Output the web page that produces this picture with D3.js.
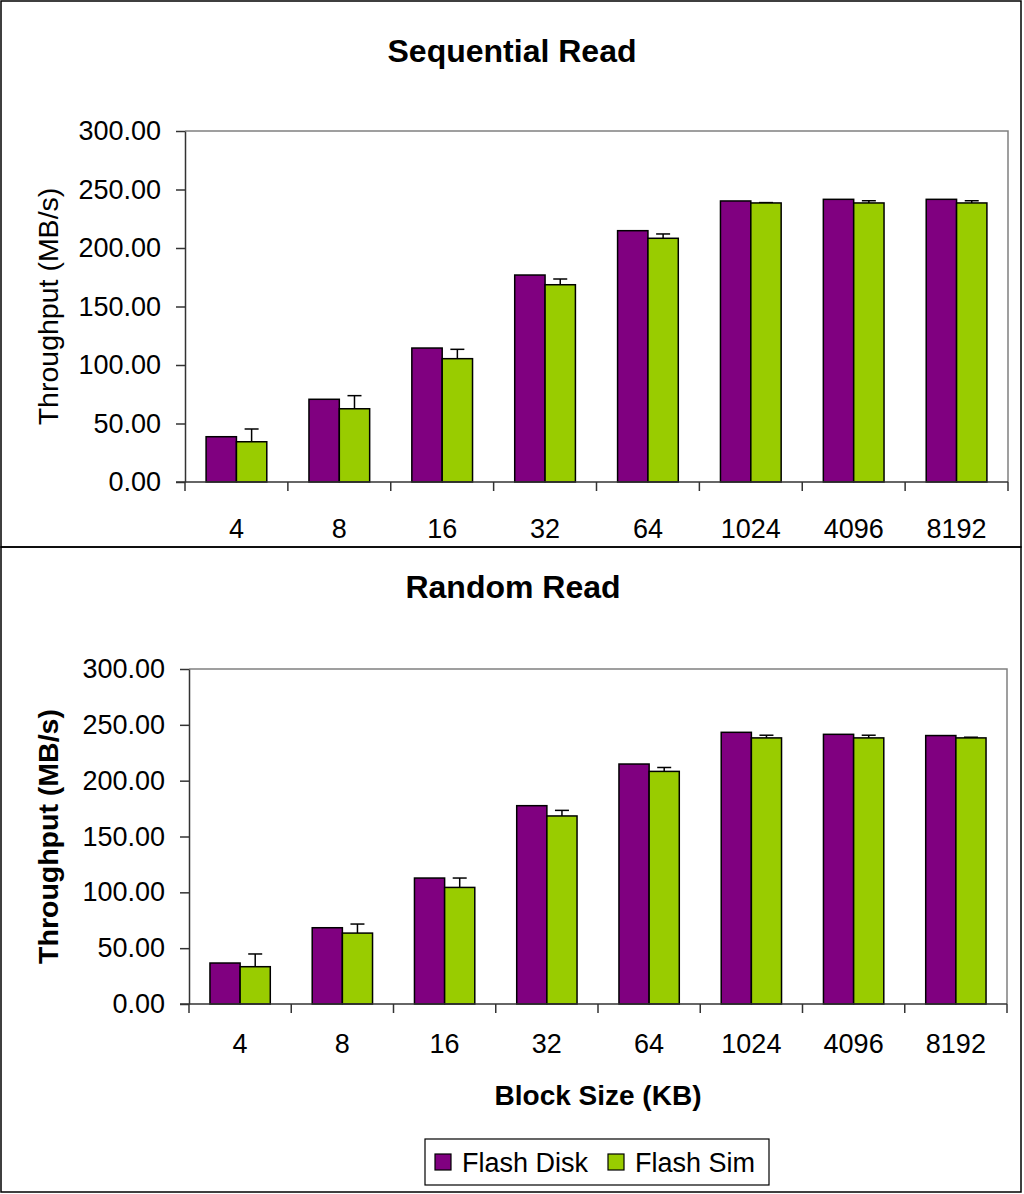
<!DOCTYPE html>
<html>
<head>
<meta charset="utf-8">
<script src="https://cdn.jsdelivr.net/npm/d3@7"></script>
<style>
  body { margin: 0; background: #fff; }
  text { font-family: "Liberation Sans", Arial, sans-serif; fill: #000; }
</style>
</head>
<body>
<svg id="chart" width="1024" height="1194"></svg>
<script>
// block sizes on the x axis
const blockSizes = ["4", "8", "16", "32", "64", "1024", "4096", "8192"];
const seriesNames = ["Flash Disk", "Flash Sim"];
const yTicks = [0, 50, 100, 150, 200, 250, 300];

// Sequential read (MB/s)
const seqDisk = [38.7, 70.7, 114.5, 176.9, 214.8, 240.2, 241.6, 241.6];
const seqSim = [34.4, 62.6, 105.4, 168.6, 208.3, 238.5, 238.5, 238.5];
const seqSimErr = [10.9, 11.2, 8.0, 4.9, 3.7, 0.3, 1.9, 1.9];

// Random read (MB/s)
const rndDisk = [36.7, 68.3, 112.8, 177.6, 214.9, 243.3, 241.5, 240.4];
const rndSim = [33.4, 63.5, 104.4, 168.4, 208.3, 238.3, 238.3, 238.3];
const rndSimErr = [11.4, 8.1, 8.4, 5.0, 3.5, 2.4, 2.4, 0.6];

const colors = ["#800080", "#99cc00"];

const svg = d3.select("#chart");

// outer frames of the two charts
svg.append("rect").attr("x", 1).attr("y", 1).attr("width", 1020).attr("height", 546)
    .attr("fill", "none").attr("stroke", "#000").attr("stroke-width", 1.5);
svg.append("rect").attr("x", 1).attr("y", 547).attr("width", 1020).attr("height", 645)
    .attr("fill", "none").attr("stroke", "#000").attr("stroke-width", 1.5);

function drawPanel(opts) {
    let x = d3.scaleBand().domain(blockSizes).range([opts.left, opts.right]);
    let y = d3.scaleLinear().domain([0, 300]).range([opts.bottom, opts.top]);
    let barW = x.bandwidth() * 0.295;

    let g = svg.append("g");

    // plot area border (top / right in grey)
    g.append("path")
        .attr("d", `M${opts.left},${opts.top}H${opts.right}V${opts.bottom}`)
        .attr("fill", "none").attr("stroke", "#808080").attr("stroke-width", 1.5);

    // title
    g.append("text")
        .attr("x", opts.titleX).attr("y", opts.titleY)
        .attr("text-anchor", "middle")
        .style("font-size", "32px").style("font-weight", "bold")
        .text(opts.title);

    // y axis
    let yAxis = d3.axisLeft(y).tickValues(yTicks).tickFormat(d3.format(".2f"))
        .tickSizeOuter(0).tickSizeInner(9).tickPadding(15);
    let ya = g.append("g").attr("transform", `translate(${opts.left},0)`).call(yAxis);
    ya.select(".domain").attr("stroke", "#333").attr("stroke-width", 1.5);
    ya.selectAll(".tick line").attr("stroke", "#333").attr("stroke-width", 1.5);
    ya.selectAll(".tick text").style("font-size", "27px").style("font-family", "Liberation Sans");

    // y axis title
    g.append("text")
        .attr("transform", `translate(${opts.yTitleX},${(opts.top + opts.bottom) / 2}) rotate(-90)`)
        .attr("text-anchor", "middle").attr("dy", "0.35em")
        .style("font-size", "28.5px")
        .style("font-weight", opts.yTitleBold ? "bold" : "normal")
        .text("Throughput (MB/s)");

    // bars
    let groups = g.selectAll(".cat")
        .data(blockSizes.map((b, i) => ({ b: b, disk: opts.disk[i], sim: opts.sim[i], err: opts.err[i] })))
        .enter().append("g");

    let mid = d => x(d.b) + x.bandwidth() / 2;

    groups.append("rect")
        .attr("x", d => mid(d) - barW).attr("width", barW)
        .attr("y", d => y(d.disk)).attr("height", d => y(0) - y(d.disk))
        .attr("fill", colors[0]).attr("stroke", "#000").attr("stroke-width", 1.5);

    // error bar goes behind the sim bar top
    groups.append("line")
        .attr("x1", d => mid(d) + barW / 2).attr("x2", d => mid(d) + barW / 2)
        .attr("y1", d => y(d.sim)).attr("y2", d => y(d.sim + d.err))
        .attr("stroke", "#000").attr("stroke-width", 1.5);
    groups.append("line")
        .attr("x1", d => mid(d) + barW / 2 - 7).attr("x2", d => mid(d) + barW / 2 + 7)
        .attr("y1", d => y(d.sim + d.err)).attr("y2", d => y(d.sim + d.err))
        .attr("stroke", "#000").attr("stroke-width", 1.5);

    groups.append("rect")
        .attr("x", d => mid(d)).attr("width", barW)
        .attr("y", d => y(d.sim)).attr("height", d => y(0) - y(d.sim))
        .attr("fill", colors[1]).attr("stroke", "#000").attr("stroke-width", 1.5);

    // x axis with ticks between categories
    g.append("line")
        .attr("x1", opts.left - 9).attr("x2", opts.right)
        .attr("y1", y(0)).attr("y2", y(0))
        .attr("stroke", "#333").attr("stroke-width", 1.5);
    let edges = blockSizes.map(b => x(b)).concat([opts.right]);
    g.selectAll(".xtick").data(edges).enter().append("line")
        .attr("x1", d => d).attr("x2", d => d)
        .attr("y1", y(0)).attr("y2", y(0) + 9)
        .attr("stroke", "#333").attr("stroke-width", 1.5);
    g.selectAll(".xlab").data(blockSizes).enter().append("text")
        .attr("x", d => x(d) + x.bandwidth() / 2)
        .attr("y", opts.xLabelY)
        .attr("text-anchor", "middle")
        .style("font-size", "27px")
        .text(d => d);

    return x;
}

drawPanel({
    title: "Sequential Read", titleX: 512, titleY: 62,
    left: 185, right: 1008, top: 131, bottom: 482,
    xLabelY: 538, yTitleX: 48, yTitleBold: false,
    disk: seqDisk, sim: seqSim, err: seqSimErr
});

drawPanel({
    title: "Random Read", titleX: 513, titleY: 598,
    left: 189, right: 1007, top: 669, bottom: 1004,
    xLabelY: 1053, yTitleX: 48, yTitleBold: true,
    disk: rndDisk, sim: rndSim, err: rndSimErr
});

// x axis title for the lower chart
svg.append("text")
    .attr("x", 598).attr("y", 1105)
    .attr("text-anchor", "middle")
    .style("font-size", "28px").style("font-weight", "bold")
    .text("Block Size (KB)");

// legend
let legend = svg.append("g");
legend.append("rect").attr("x", 425).attr("y", 1139).attr("width", 344).attr("height", 46)
    .attr("fill", "#fff").attr("stroke", "#000").attr("stroke-width", 1.2);
let legX = [435, 608];
let li = legend.selectAll(".li").data(seriesNames).enter().append("g")
    .attr("transform", (d, i) => `translate(${legX[i]},1154)`);
li.append("rect").attr("width", 16).attr("height", 16)
    .attr("fill", (d, i) => colors[i]).attr("stroke", "#000").attr("stroke-width", 1.2);
li.append("text").attr("x", 27).attr("y", 18)
    .style("font-size", "27px")
    .text(d => d);
</script>
</body>
</html>
